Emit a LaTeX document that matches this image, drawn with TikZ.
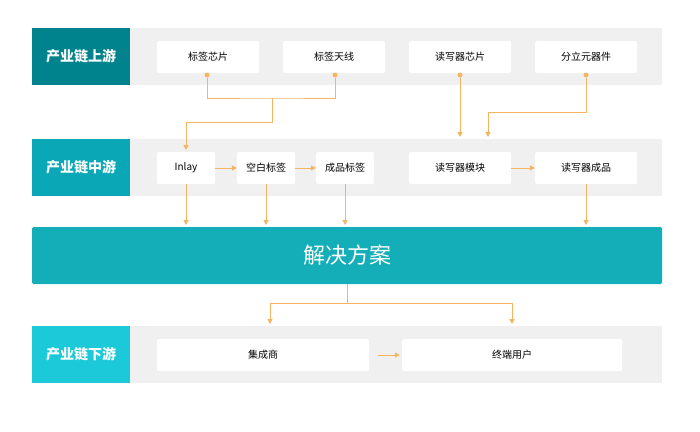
\documentclass[tikz,border=0pt]{standalone}
\usepackage{fontspec}
\setmainfont{Noto Sans CJK SC}
\usetikzlibrary{arrows.meta}
\definecolor{band}{HTML}{F0F0F0}
\definecolor{hA}{HTML}{00838C}
\definecolor{hB}{HTML}{0AA8B6}
\definecolor{hC}{HTML}{1CC9D8}
\definecolor{sol}{HTML}{14AEB9}
\definecolor{org}{HTML}{F5B461}
\begin{document}
\begin{tikzpicture}[x=1pt,y=-1pt,
  box/.style={fill=white,rounded corners=1.5pt,font=\fontsize{10}{12}\selectfont},
  hdr/.style={text=white,font=\fontsize{14}{16}\selectfont\bfseries},
  ln/.style={draw=org,line width=1pt},
  ar/.style={ln,-{Triangle[length=5pt,width=5pt]}},
  dot/.style={circle,fill=org,inner sep=0pt,minimum size=5pt}]
\useasboundingbox (0,0) rectangle (700,431);
% bands
\foreach \a/\b in {28/85,139/196,326/383}{\fill[band] (130,\a) rectangle (662,\b);}
\fill[hA] (32,28) rectangle (130,85); \node[hdr] (h1) at (81,56.5) {产业链上游};
\fill[hB] (32,139) rectangle (130,196); \node[hdr] (h2) at (81,167.5) {产业链中游};
\fill[hC] (32,326) rectangle (130,383); \node[hdr] (h3) at (81,354.5) {产业链下游};
\fill[sol,rounded corners=1.5pt] (32,227) rectangle (662,284);
\node[text=white,font=\fontsize{22}{24}\selectfont] (s) at (347,255.5) {解决方案};
\coordinate (sb) at (347,284);
% row1
\newcommand\bx[6]{\fill[white,rounded corners=1.5pt] (#2,#4) rectangle (#3,#5);
  \node[box,fill=none,inner sep=0pt,minimum width=#3pt-#2pt,minimum height=#5pt-#4pt] (#1) at ({(#2+#3)/2},{(#4+#5)/2}) {#6};}
\bx{a1}{157}{259}{41}{73}{标签芯片}
\bx{a2}{283}{385}{41}{73}{标签天线}
\bx{a3}{409}{511}{41}{73}{读写器芯片}
\bx{a4}{535}{637}{41}{73}{分立元器件}
\bx{b1}{157}{215}{152}{184}{Inlay}
\bx{b2}{237}{295}{152}{184}{空白标签}
\bx{b3}{316}{374}{152}{184}{成品标签}
\bx{b4}{409}{511}{152}{184}{读写器模块}
\bx{b5}{535}{637}{152}{184}{读写器成品}
\bx{c1}{157}{369}{339}{371}{集成商}
\bx{c2}{402}{622}{339}{371}{终端用户}
% upstream connectors
\node[dot] (d1) at (207,75) {};
\node[dot] (d2) at (335,75) {};
\node[dot] (d3) at (460,75) {};
\node[dot] (d4) at (586,75) {};
\draw[ln] (d1) |- (272,98) -| (d2);
\draw[ar] (272,98) -- (272,122) -| (186,150);
\draw[ar] (d3) -- (460,137);
\draw[ar] (d4) -- (586,112) -| (488,137);
% midstream
\draw[ar] (b1) -- (b2);
\draw[ar] (b2) -- (b3);
\draw[ar] (b4) -- (b5);
\draw[ar] (b1.south) -- (186,225);
\draw[ar] (b2.south) -- (266,225);
\draw[ar] (b3.south) -- (345,225);
\draw[ar] (b5.south) -- (586,225);
% downstream
\draw[ln] (sb) -- (347,303);
\draw[ar] (270,303) -- (270,324);
\draw[ar] (512,303) -- (512,324);
\draw[ln] (270,303) -- (512,303);
\draw[ar] (c1.east) ++(9,0) -- ([xshift=-2pt]c2.west);
\end{tikzpicture}
\end{document}
